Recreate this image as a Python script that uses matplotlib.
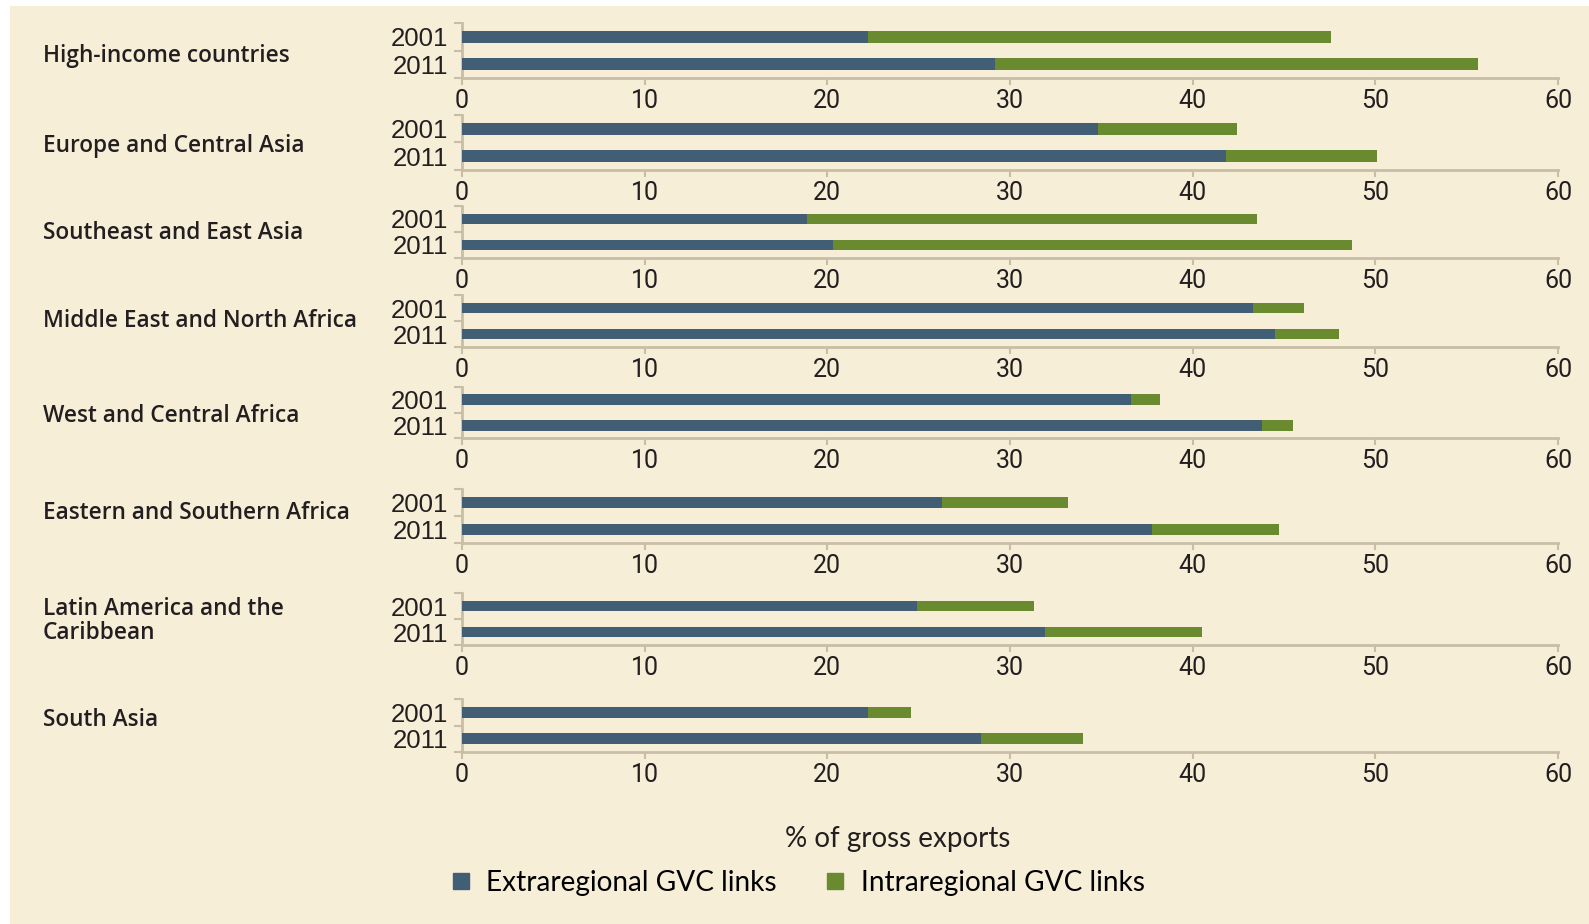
import matplotlib
matplotlib.use("Agg")
import matplotlib.pyplot as plt
from matplotlib.patches import Rectangle
from matplotlib.lines import Line2D

# ---- data ----
regions = [
    "High-income countries",
    "Europe and Central Asia",
    "Southeast and East Asia",
    "Middle East and North Africa",
    "West and Central Africa",
    "Eastern and Southern Africa",
    "Latin America and the\nCaribbean",
    "South Asia",
]
years = ["2001", "2011"]
extra_2001 = [22.2, 34.8, 18.9, 43.3, 36.6, 26.3, 24.9, 22.2]
total_2001 = [47.6, 42.4, 43.5, 46.1, 38.2, 33.2, 31.3, 24.6]
extra_2011 = [29.2, 41.8, 20.3, 44.5, 43.8, 37.8, 31.9, 28.4]
total_2011 = [55.6, 50.1, 48.7, 48.0, 45.5, 44.7, 40.5, 34.0]
intra_2001 = [t - e for t, e in zip(total_2001, extra_2001)]
intra_2011 = [t - e for t, e in zip(total_2011, extra_2011)]
xticks = [0, 10, 20, 30, 40, 50, 60]
series_labels = ["Extraregional GVC links", "Intraregional GVC links"]
xlabel = "% of gross exports"

# ---- style ----
W, H = 1589, 924
BLUE = "#415e74"
GREEN = "#6a8a2f"
TAN = "#c8bda7"
BG = "#f7eed8"
TXT = "#231f20"
FONT_LBL = "Open Sans"
FONT_LEG = "Lato"
FONT_YEAR = "Liberation Sans"
FONT_TICK = "Roboto"

fig = plt.figure(figsize=(W / 100, H / 100), dpi=100)
fig.patch.set_facecolor("white")
fig.add_artist(Rectangle((10 / W, 0), 1 - 10 / W, 1 - 6 / H,
                         transform=fig.transFigure, facecolor=BG,
                         edgecolor="none", zorder=0))

tops = [23, 115, 206, 295, 387, 489, 593, 699]
bottoms = [78, 170, 258, 347, 438, 543, 645, 752]
label_y = [56, 146, 233, 321, 416, 513, 621, 720]
x0, x1 = 462, 1558

for i, reg in enumerate(regions):
    ax = fig.add_axes([x0 / W, 1 - bottoms[i] / H, (x1 - x0) / W,
                       (bottoms[i] - tops[i]) / H])
    ax.set_facecolor("none")
    ypos = [0, 1]
    ex = [extra_2001[i], extra_2011[i]]
    ia = [intra_2001[i], intra_2011[i]]
    ax.barh(ypos, ex, height=0.42, color=BLUE, zorder=3)
    ax.barh(ypos, ia, left=ex, height=0.42, color=GREEN, zorder=3)
    ax.set_xlim(0, 60)
    ax.set_ylim(1.5, -0.5)
    for s in ["top", "right"]:
        ax.spines[s].set_visible(False)
    for s in ["left", "bottom"]:
        ax.spines[s].set_color(TAN)
        ax.spines[s].set_linewidth(2)
    ax.set_yticks(ypos)
    ax.set_yticklabels(years, fontfamily=FONT_YEAR, fontsize=18.5, color=TXT)
    ax.set_yticks([-0.5, 0.5, 1.5], minor=True)
    ax.tick_params(axis="y", which="major", length=0, pad=10)
    ax.tick_params(axis="y", which="minor", length=6, width=1.5, color=TAN)
    ax.set_xticks(xticks)
    ax.set_xticklabels([str(v) for v in xticks], fontfamily=FONT_TICK,
                       fontsize=18, color=TXT)
    ax.tick_params(axis="x", length=5, width=1.5, color=TAN, pad=3)
    fig.text(43 / W, 1 - label_y[i] / H, reg,
             fontsize=16.3, fontfamily=FONT_LBL, fontweight="semibold",
             color=TXT, ha="left", va="center", linespacing=1.0)

fig.text(898 / W, 1 - 839 / H, xlabel, fontsize=20, fontfamily=FONT_LEG,
         color=TXT, ha="center", va="center")

handles = [Line2D([], [], marker="s", linestyle="none", markersize=11,
                  markerfacecolor=c, markeredgecolor=c) for c in (BLUE, GREEN)]
fig.legend(handles, series_labels, loc="center",
           bbox_to_anchor=(797 / W, 1 - 883 / H), ncol=2, frameon=False,
           prop={"family": FONT_LEG, "size": 20.2}, handletextpad=0.5,
           columnspacing=1.7, handlelength=0.8)

fig.savefig("out.png", dpi=100, facecolor=fig.get_facecolor())
